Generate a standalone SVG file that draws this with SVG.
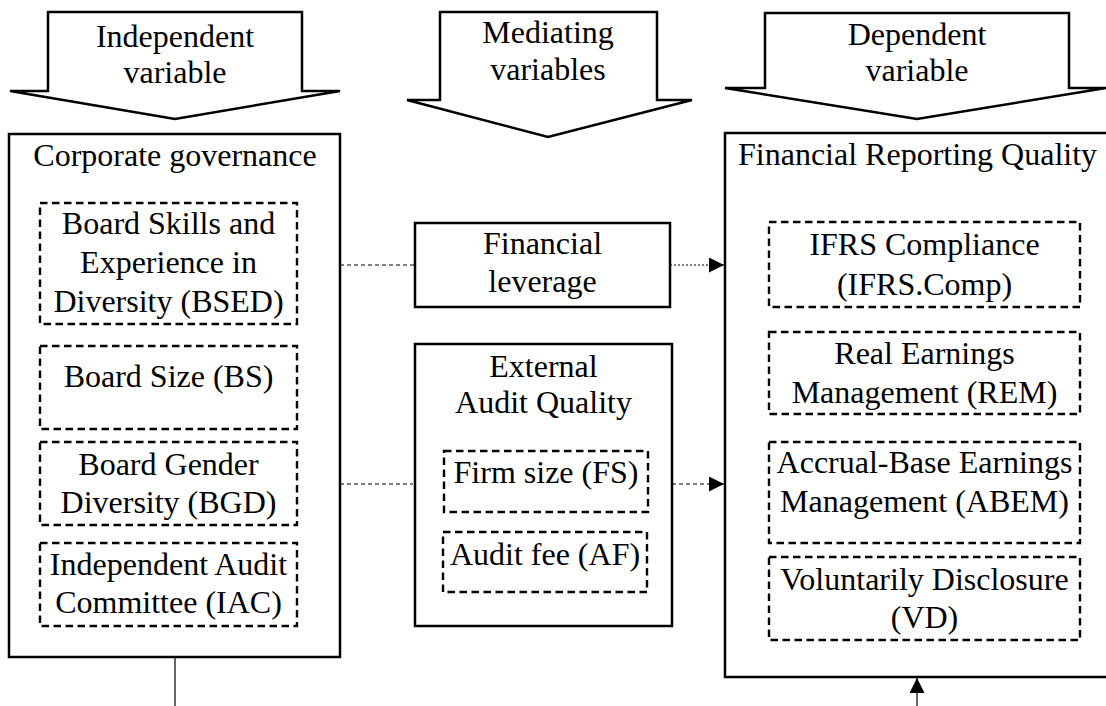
<svg xmlns="http://www.w3.org/2000/svg" width="1106" height="706" viewBox="0 0 1106 706">
  <defs>
    <style>
      text { font-family: "Liberation Serif", "Times New Roman", serif; font-size: 32px; fill: #000; text-anchor: middle; }
      .solid { fill: #fff; stroke: #000; stroke-width: 2.5; }
      .dashed { fill: none; stroke: #000; stroke-width: 2.4; stroke-dasharray: 7.5 4.5; }
      .banner { fill: #fff; stroke: #000; stroke-width: 2.5; stroke-linejoin: miter; }
      .link { fill: none; stroke: #000; stroke-width: 1; stroke-dasharray: 4 3; }
      .fine { fill: none; stroke: #000; stroke-width: 1; stroke-dasharray: 2 2; }
      .line { fill: none; stroke: #000; stroke-width: 1.2; }
    </style>
    <marker id="head" viewBox="0 0 15 15" refX="15" refY="7.5" markerWidth="15" markerHeight="15" markerUnits="userSpaceOnUse" orient="auto">
      <path d="M0,0 L15,7.5 L0,15 Z" fill="#000"/>
    </marker>
  </defs>

  <!-- Column banners -->
  <g id="banner-independent">
    <path class="banner" d="M48,12 H302 V91 H340 L175,119 L10,91 H48 Z"/>
    <text x="175" y="47">Independent</text>
    <text x="175" y="83">variable</text>
  </g>
  <g id="banner-mediating">
    <path class="banner" d="M440,12 H657 V100 H692 L548,137 L407,100 H440 Z"/>
    <text x="548" y="43">Mediating</text>
    <text x="548" y="80">variables</text>
  </g>
  <g id="banner-dependent">
    <path class="banner" d="M765,13 H1069 V88 H1106 L917,119 L725,88 H765 Z"/>
    <text x="917" y="45">Dependent</text>
    <text x="917" y="81">variable</text>
  </g>

  <!-- Independent variable: corporate governance -->
  <g id="corporate-governance">
    <rect class="solid" x="9" y="134" width="331" height="523"/>
    <text x="175" y="166">Corporate governance</text>
  </g>
  <g id="bsed">
    <rect class="dashed" x="40" y="203" width="257" height="121"/>
    <text x="168.5" y="234">Board Skills and</text>
    <text x="168.5" y="273">Experience in</text>
    <text x="168.5" y="312">Diversity (BSED)</text>
  </g>
  <g id="bs">
    <rect class="dashed" x="40" y="346" width="257" height="83"/>
    <text x="168.5" y="387">Board Size (BS)</text>
  </g>
  <g id="bgd">
    <rect class="dashed" x="40" y="442" width="257" height="83"/>
    <text x="168.5" y="475">Board Gender</text>
    <text x="168.5" y="513">Diversity (BGD)</text>
  </g>
  <g id="iac">
    <rect class="dashed" x="40" y="543" width="257" height="83"/>
    <text x="168.5" y="575">Independent Audit</text>
    <text x="168.5" y="613">Committee (IAC)</text>
  </g>

  <!-- Mediating variables -->
  <g id="financial-leverage">
    <rect class="solid" x="415" y="223" width="255" height="84"/>
    <text x="542.5" y="254">Financial</text>
    <text x="542.5" y="292">leverage</text>
  </g>
  <g id="external-audit-quality">
    <rect class="solid" x="415" y="344" width="257" height="282"/>
    <text x="543.5" y="377">External</text>
    <text x="543.5" y="413">Audit Quality</text>
  </g>
  <g id="fs">
    <rect class="dashed" x="444" y="451" width="204" height="61"/>
    <text x="546" y="483">Firm size (FS)</text>
  </g>
  <g id="af">
    <rect class="dashed" x="443" y="532" width="204" height="60"/>
    <text x="545" y="565">Audit fee (AF)</text>
  </g>

  <!-- Dependent variable: financial reporting quality -->
  <g id="financial-reporting-quality">
    <rect class="solid" x="725" y="133" width="384" height="544"/>
    <text x="738" y="165" style="text-anchor:start">Financial Reporting Quality</text>
  </g>
  <g id="ifrs">
    <rect class="dashed" x="769" y="222" width="311" height="85"/>
    <text x="924.5" y="255">IFRS Compliance</text>
    <text x="924.5" y="295">(IFRS.Comp)</text>
  </g>
  <g id="rem">
    <rect class="dashed" x="769" y="332" width="311" height="82"/>
    <text x="924.5" y="364">Real Earnings</text>
    <text x="924.5" y="403">Management (REM)</text>
  </g>
  <g id="abem">
    <rect class="dashed" x="769" y="442" width="311" height="101"/>
    <text x="924.5" y="473">Accrual-Base Earnings</text>
    <text x="924.5" y="512">Management (ABEM)</text>
  </g>
  <g id="vd">
    <rect class="dashed" x="769" y="557" width="311" height="83"/>
    <text x="924.5" y="590">Voluntarily Disclosure</text>
    <text x="924.5" y="628">(VD)</text>
  </g>

  <!-- Connectors -->
  <g id="connectors">
    <line class="link" x1="340" y1="265" x2="415" y2="265"/>
    <line class="fine" x1="670" y1="265" x2="724" y2="265" marker-end="url(#head)"/>
    <line class="link" x1="340" y1="484" x2="413" y2="484"/>
    <line class="link" x1="672" y1="484" x2="724" y2="484" marker-end="url(#head)"/>
    <line class="line" x1="175" y1="657" x2="175" y2="706"/>
    <line class="line" x1="917" y1="706" x2="917" y2="678" marker-end="url(#head)"/>
  </g>
</svg>
